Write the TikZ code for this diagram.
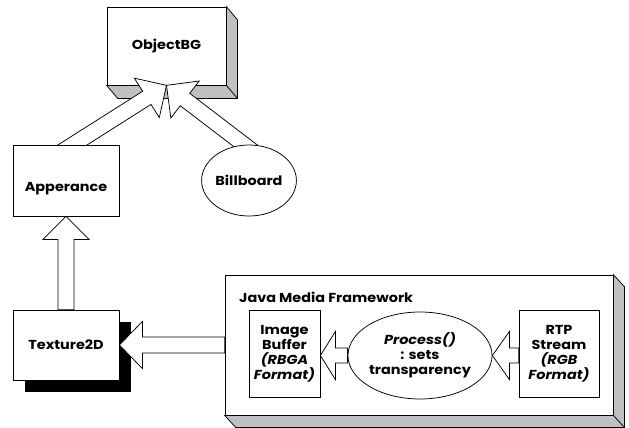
\documentclass[tikz,border=0pt]{standalone}
\usepackage{fontspec}
\setmainfont{Poppins}[FakeStretch=1.11]
\usetikzlibrary{calc,shapes.geometric}
\pgfdeclarelayer{bg}\pgfdeclarelayer{mid}
\pgfsetlayers{bg,mid,main}
\definecolor{depthgray}{RGB}{192,192,192}
\tikzset{
  lw/.style={line width=0.75pt},
  txt/.style={font=\fontsize{13}{15}\selectfont\bfseries, align=center},
  box/.style={draw, lw, fill=white, inner sep=0pt, txt},
  oval/.style={ellipse, draw, lw, fill=white, inner sep=0pt, txt},
  depth/.style={draw, lw, fill=depthgray, line join=miter},
  fat/.style={draw, lw, fill=white, line join=miter},
}
\newcommand\fatarrow[6]{% start, tip, shaft half width, head half width, head length, back extension
  \draw[fat] let \p1=($(#2)-(#1)$), \n1={atan2(\y1,\x1)} in
   ($(#1)+(\n1+180:#6)+(\n1+90:#3)$) -- ($(#2)+(\n1+180:#5)+(\n1+90:#3)$)
   -- ($(#2)+(\n1+180:#5)+(\n1+90:#4)$) -- (#2)
   -- ($(#2)+(\n1+180:#5)+(\n1-90:#4)$) -- ($(#2)+(\n1+180:#5)+(\n1-90:#3)$)
   -- ($(#1)+(\n1+180:#6)+(\n1-90:#3)$) -- cycle;}
\begin{document}
\begin{tikzpicture}[x=1pt,y=-1pt]
\useasboundingbox (0,0) rectangle (629,428);
% ---- background layer: 3D boxes and shadow
\begin{pgfonlayer}{bg}
  \node[box, minimum width=119pt, minimum height=78pt] (obj) at (166.5,46) {ObjectBG};
  \draw[depth] (obj.north east) -- ++(11,13) -- ($(obj.south east)+(11,13)$) -- ($(obj.south west)+(11,13)$) -- (obj.south west) -- (obj.south east) -- cycle;
  \draw[lw] (obj.south east) -- ++(11,13);
  \node[box, fill=none, minimum width=388pt, minimum height=140pt] (jmf) at (419,345) {};
  \draw[depth] (jmf.north east) -- ++(11,12) -- ($(jmf.south east)+(11,12)$) -- ($(jmf.south west)+(11,12)$) -- (jmf.south west) -- (jmf.south east) -- cycle;
  \draw[lw] (jmf.south east) -- ++(11,12);
  \node[txt, anchor=west, inner sep=0pt] (jmftitle) at (239,297) {Java Media Framework};
  \node[fill=black, minimum width=106pt, minimum height=70pt, inner sep=0pt] (texshadow) at (77.5,357) {};
\end{pgfonlayer}
% ---- main nodes
\node[box, minimum width=106pt, minimum height=71pt] (app) at (66,180.5) {};
\node[txt, inner sep=0pt] (applabel) at (66,189) {Apperance};
\node[oval, minimum width=94pt, minimum height=71pt] (bill) at (249,180.5) {Billboard};
\node[box, minimum width=106pt, minimum height=70pt] (tex) at (66,345) {Texture2D};
\node[box, minimum width=71pt, minimum height=87pt] (ib) at (284.5,353.5) {Image\\Buffer\\\textit{(RBGA}\\\textit{Format)}};
\node[oval, minimum width=132pt, minimum height=87pt] (proc) at (420,355.5) {\textit{Process()}\\: sets\\transparency};
\node[box, minimum width=80pt, minimum height=87pt] (rtp) at (559,353.5) {RTP\\Stream\\\textit{(RGB}\\\textit{Format)}};
\coordinate (appstart) at ($(app.north)+(7,0)$);
\coordinate (billstart) at ($(bill.north)+(-5,0)$);
% ---- arrows
\begin{pgfonlayer}{mid}
  \fatarrow{appstart}{obj.south}{7.8pt}{23.3pt}{23.3pt}{14pt}
  \fatarrow{billstart}{obj.south}{7.8pt}{23.3pt}{23.3pt}{14pt}
  \fatarrow{tex.north}{app.south}{8pt}{23pt}{23pt}{0pt}
  \fatarrow{jmf.west}{tex.east}{8pt}{23.5pt}{23pt}{0pt}
  \fatarrow{proc.west}{ib.east |- proc.west}{7.5pt}{24pt}{15pt}{0pt}
  \fatarrow{rtp.west |- proc.east}{proc.east}{7.5pt}{24pt}{17pt}{0pt}
\end{pgfonlayer}
\end{tikzpicture}
\end{document}
